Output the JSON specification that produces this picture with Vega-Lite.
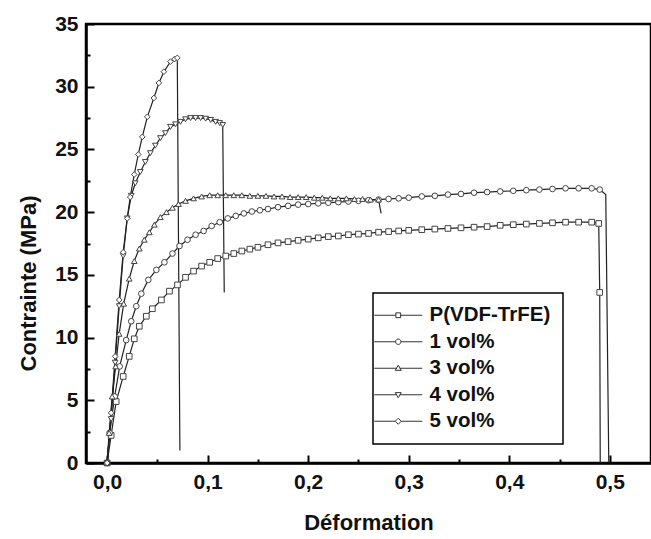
{
  "$schema": "https://vega.github.io/schema/vega-lite/v6.json",
  "width": 565,
  "height": 439,
  "autosize": {"type": "none"},
  "padding": {"left": 86, "top": 24, "right": 0, "bottom": 76},
  "background": "white",
  "config": {
    "view": {"stroke": "black", "strokeWidth": 2.5},
    "font": "Liberation Sans"
  },
  "data": {
    "values": [
      {"s": "P(VDF-TrFE)", "x": 0, "y": 0},
      {"s": "P(VDF-TrFE)", "x": 0.004, "y": 2.2},
      {"s": "P(VDF-TrFE)", "x": 0.009, "y": 4.9},
      {"s": "P(VDF-TrFE)", "x": 0.016, "y": 6.9},
      {"s": "P(VDF-TrFE)", "x": 0.022, "y": 8.5},
      {"s": "P(VDF-TrFE)", "x": 0.027, "y": 9.9},
      {"s": "P(VDF-TrFE)", "x": 0.032, "y": 10.9},
      {"s": "P(VDF-TrFE)", "x": 0.039, "y": 11.7},
      {"s": "P(VDF-TrFE)", "x": 0.045, "y": 12.3},
      {"s": "P(VDF-TrFE)", "x": 0.054, "y": 13.0},
      {"s": "P(VDF-TrFE)", "x": 0.062, "y": 13.7},
      {"s": "P(VDF-TrFE)", "x": 0.070, "y": 14.2},
      {"s": "P(VDF-TrFE)", "x": 0.078, "y": 14.8},
      {"s": "P(VDF-TrFE)", "x": 0.086, "y": 15.3},
      {"s": "P(VDF-TrFE)", "x": 0.094, "y": 15.7},
      {"s": "P(VDF-TrFE)", "x": 0.102, "y": 16.0},
      {"s": "P(VDF-TrFE)", "x": 0.110, "y": 16.3},
      {"s": "P(VDF-TrFE)", "x": 0.118, "y": 16.5},
      {"s": "P(VDF-TrFE)", "x": 0.126, "y": 16.7},
      {"s": "P(VDF-TrFE)", "x": 0.134, "y": 16.9},
      {"s": "P(VDF-TrFE)", "x": 0.142, "y": 17.05},
      {"s": "P(VDF-TrFE)", "x": 0.150, "y": 17.2},
      {"s": "P(VDF-TrFE)", "x": 0.160, "y": 17.4},
      {"s": "P(VDF-TrFE)", "x": 0.170, "y": 17.55},
      {"s": "P(VDF-TrFE)", "x": 0.180, "y": 17.65},
      {"s": "P(VDF-TrFE)", "x": 0.190, "y": 17.75},
      {"s": "P(VDF-TrFE)", "x": 0.200, "y": 17.85},
      {"s": "P(VDF-TrFE)", "x": 0.210, "y": 17.95},
      {"s": "P(VDF-TrFE)", "x": 0.220, "y": 18.05},
      {"s": "P(VDF-TrFE)", "x": 0.230, "y": 18.1},
      {"s": "P(VDF-TrFE)", "x": 0.240, "y": 18.2},
      {"s": "P(VDF-TrFE)", "x": 0.250, "y": 18.25},
      {"s": "P(VDF-TrFE)", "x": 0.260, "y": 18.3},
      {"s": "P(VDF-TrFE)", "x": 0.270, "y": 18.4},
      {"s": "P(VDF-TrFE)", "x": 0.280, "y": 18.45},
      {"s": "P(VDF-TrFE)", "x": 0.290, "y": 18.5},
      {"s": "P(VDF-TrFE)", "x": 0.300, "y": 18.55},
      {"s": "P(VDF-TrFE)", "x": 0.313, "y": 18.6},
      {"s": "P(VDF-TrFE)", "x": 0.326, "y": 18.65},
      {"s": "P(VDF-TrFE)", "x": 0.339, "y": 18.7},
      {"s": "P(VDF-TrFE)", "x": 0.352, "y": 18.75},
      {"s": "P(VDF-TrFE)", "x": 0.365, "y": 18.8},
      {"s": "P(VDF-TrFE)", "x": 0.378, "y": 18.85},
      {"s": "P(VDF-TrFE)", "x": 0.391, "y": 18.95},
      {"s": "P(VDF-TrFE)", "x": 0.404, "y": 19.0},
      {"s": "P(VDF-TrFE)", "x": 0.417, "y": 19.05},
      {"s": "P(VDF-TrFE)", "x": 0.430, "y": 19.1},
      {"s": "P(VDF-TrFE)", "x": 0.443, "y": 19.15},
      {"s": "P(VDF-TrFE)", "x": 0.456, "y": 19.2},
      {"s": "P(VDF-TrFE)", "x": 0.469, "y": 19.2},
      {"s": "P(VDF-TrFE)", "x": 0.482, "y": 19.2},
      {"s": "P(VDF-TrFE)", "x": 0.489, "y": 19.1},
      {"s": "P(VDF-TrFE)", "x": 0.490, "y": 13.6},
      {"s": "P(VDF-TrFE)", "x": 0.4905, "y": 0, "phase": "rupture"},

      {"s": "1 vol%", "x": 0, "y": 0},
      {"s": "1 vol%", "x": 0.0025, "y": 2.4},
      {"s": "1 vol%", "x": 0.0075, "y": 5.3},
      {"s": "1 vol%", "x": 0.0125, "y": 7.7},
      {"s": "1 vol%", "x": 0.019, "y": 9.8},
      {"s": "1 vol%", "x": 0.024, "y": 11.3},
      {"s": "1 vol%", "x": 0.029, "y": 12.5},
      {"s": "1 vol%", "x": 0.034, "y": 13.5},
      {"s": "1 vol%", "x": 0.041, "y": 14.6},
      {"s": "1 vol%", "x": 0.049, "y": 15.4},
      {"s": "1 vol%", "x": 0.057, "y": 16.0},
      {"s": "1 vol%", "x": 0.065, "y": 16.7},
      {"s": "1 vol%", "x": 0.072, "y": 17.3},
      {"s": "1 vol%", "x": 0.080, "y": 17.8},
      {"s": "1 vol%", "x": 0.088, "y": 18.2},
      {"s": "1 vol%", "x": 0.096, "y": 18.5},
      {"s": "1 vol%", "x": 0.104, "y": 18.9},
      {"s": "1 vol%", "x": 0.112, "y": 19.2},
      {"s": "1 vol%", "x": 0.120, "y": 19.5},
      {"s": "1 vol%", "x": 0.128, "y": 19.7},
      {"s": "1 vol%", "x": 0.136, "y": 19.9},
      {"s": "1 vol%", "x": 0.144, "y": 20.05},
      {"s": "1 vol%", "x": 0.152, "y": 20.15},
      {"s": "1 vol%", "x": 0.160, "y": 20.25},
      {"s": "1 vol%", "x": 0.170, "y": 20.4},
      {"s": "1 vol%", "x": 0.180, "y": 20.5},
      {"s": "1 vol%", "x": 0.190, "y": 20.6},
      {"s": "1 vol%", "x": 0.200, "y": 20.65},
      {"s": "1 vol%", "x": 0.210, "y": 20.7},
      {"s": "1 vol%", "x": 0.220, "y": 20.75},
      {"s": "1 vol%", "x": 0.230, "y": 20.8},
      {"s": "1 vol%", "x": 0.240, "y": 20.85},
      {"s": "1 vol%", "x": 0.250, "y": 20.9},
      {"s": "1 vol%", "x": 0.260, "y": 20.95},
      {"s": "1 vol%", "x": 0.270, "y": 21.0},
      {"s": "1 vol%", "x": 0.280, "y": 21.05},
      {"s": "1 vol%", "x": 0.290, "y": 21.1},
      {"s": "1 vol%", "x": 0.300, "y": 21.15},
      {"s": "1 vol%", "x": 0.313, "y": 21.25},
      {"s": "1 vol%", "x": 0.326, "y": 21.3},
      {"s": "1 vol%", "x": 0.339, "y": 21.4},
      {"s": "1 vol%", "x": 0.352, "y": 21.45},
      {"s": "1 vol%", "x": 0.365, "y": 21.55},
      {"s": "1 vol%", "x": 0.378, "y": 21.6},
      {"s": "1 vol%", "x": 0.391, "y": 21.65},
      {"s": "1 vol%", "x": 0.404, "y": 21.7},
      {"s": "1 vol%", "x": 0.417, "y": 21.75},
      {"s": "1 vol%", "x": 0.430, "y": 21.8},
      {"s": "1 vol%", "x": 0.443, "y": 21.85},
      {"s": "1 vol%", "x": 0.456, "y": 21.9},
      {"s": "1 vol%", "x": 0.469, "y": 21.9},
      {"s": "1 vol%", "x": 0.482, "y": 21.9},
      {"s": "1 vol%", "x": 0.490, "y": 21.8},
      {"s": "1 vol%", "x": 0.496, "y": 21.4, "phase": "rupture"},
      {"s": "1 vol%", "x": 0.499, "y": 0, "phase": "rupture"},

      {"s": "3 vol%", "x": 0, "y": 0},
      {"s": "3 vol%", "x": 0.002, "y": 2.4},
      {"s": "3 vol%", "x": 0.005, "y": 5.3},
      {"s": "3 vol%", "x": 0.0085, "y": 7.7},
      {"s": "3 vol%", "x": 0.012, "y": 10.3},
      {"s": "3 vol%", "x": 0.0165, "y": 12.7},
      {"s": "3 vol%", "x": 0.022, "y": 14.7},
      {"s": "3 vol%", "x": 0.027, "y": 16.1},
      {"s": "3 vol%", "x": 0.032, "y": 17.1},
      {"s": "3 vol%", "x": 0.037, "y": 17.8},
      {"s": "3 vol%", "x": 0.042, "y": 18.4},
      {"s": "3 vol%", "x": 0.047, "y": 19.0},
      {"s": "3 vol%", "x": 0.053, "y": 19.6},
      {"s": "3 vol%", "x": 0.059, "y": 20.0},
      {"s": "3 vol%", "x": 0.065, "y": 20.35},
      {"s": "3 vol%", "x": 0.071, "y": 20.65},
      {"s": "3 vol%", "x": 0.078, "y": 20.9},
      {"s": "3 vol%", "x": 0.086, "y": 21.1},
      {"s": "3 vol%", "x": 0.094, "y": 21.25},
      {"s": "3 vol%", "x": 0.102, "y": 21.35},
      {"s": "3 vol%", "x": 0.110, "y": 21.35},
      {"s": "3 vol%", "x": 0.118, "y": 21.35},
      {"s": "3 vol%", "x": 0.126, "y": 21.35},
      {"s": "3 vol%", "x": 0.134, "y": 21.35},
      {"s": "3 vol%", "x": 0.142, "y": 21.3},
      {"s": "3 vol%", "x": 0.150, "y": 21.3},
      {"s": "3 vol%", "x": 0.158, "y": 21.3},
      {"s": "3 vol%", "x": 0.166, "y": 21.25},
      {"s": "3 vol%", "x": 0.174, "y": 21.25},
      {"s": "3 vol%", "x": 0.182, "y": 21.2},
      {"s": "3 vol%", "x": 0.190, "y": 21.2},
      {"s": "3 vol%", "x": 0.198, "y": 21.2},
      {"s": "3 vol%", "x": 0.206, "y": 21.15},
      {"s": "3 vol%", "x": 0.214, "y": 21.15},
      {"s": "3 vol%", "x": 0.222, "y": 21.1},
      {"s": "3 vol%", "x": 0.230, "y": 21.1},
      {"s": "3 vol%", "x": 0.238, "y": 21.1},
      {"s": "3 vol%", "x": 0.246, "y": 21.05},
      {"s": "3 vol%", "x": 0.254, "y": 21.05},
      {"s": "3 vol%", "x": 0.262, "y": 21.0},
      {"s": "3 vol%", "x": 0.270, "y": 21.0},
      {"s": "3 vol%", "x": 0.2725, "y": 19.9, "phase": "rupture"},

      {"s": "4 vol%", "x": 0, "y": 0},
      {"s": "4 vol%", "x": 0.004, "y": 3.5},
      {"s": "4 vol%", "x": 0.008, "y": 8.0},
      {"s": "4 vol%", "x": 0.012, "y": 12.5},
      {"s": "4 vol%", "x": 0.016, "y": 16.5},
      {"s": "4 vol%", "x": 0.020, "y": 19.5},
      {"s": "4 vol%", "x": 0.024, "y": 21.3},
      {"s": "4 vol%", "x": 0.028, "y": 22.3},
      {"s": "4 vol%", "x": 0.033, "y": 23.2},
      {"s": "4 vol%", "x": 0.038, "y": 24.0},
      {"s": "4 vol%", "x": 0.043, "y": 24.7},
      {"s": "4 vol%", "x": 0.048, "y": 25.3},
      {"s": "4 vol%", "x": 0.053, "y": 25.9},
      {"s": "4 vol%", "x": 0.058, "y": 26.3},
      {"s": "4 vol%", "x": 0.063, "y": 26.8},
      {"s": "4 vol%", "x": 0.068, "y": 27.0},
      {"s": "4 vol%", "x": 0.073, "y": 27.2},
      {"s": "4 vol%", "x": 0.078, "y": 27.4},
      {"s": "4 vol%", "x": 0.083, "y": 27.5},
      {"s": "4 vol%", "x": 0.088, "y": 27.5},
      {"s": "4 vol%", "x": 0.093, "y": 27.5},
      {"s": "4 vol%", "x": 0.098, "y": 27.45},
      {"s": "4 vol%", "x": 0.103, "y": 27.35},
      {"s": "4 vol%", "x": 0.108, "y": 27.2},
      {"s": "4 vol%", "x": 0.112, "y": 27.1},
      {"s": "4 vol%", "x": 0.115, "y": 26.95},
      {"s": "4 vol%", "x": 0.1165, "y": 13.6, "phase": "rupture"},

      {"s": "5 vol%", "x": 0, "y": 0},
      {"s": "5 vol%", "x": 0.004, "y": 4.0},
      {"s": "5 vol%", "x": 0.008, "y": 8.5},
      {"s": "5 vol%", "x": 0.012, "y": 13.0},
      {"s": "5 vol%", "x": 0.016, "y": 16.8},
      {"s": "5 vol%", "x": 0.020, "y": 19.5},
      {"s": "5 vol%", "x": 0.023, "y": 21.2},
      {"s": "5 vol%", "x": 0.027, "y": 23.0},
      {"s": "5 vol%", "x": 0.031, "y": 24.6},
      {"s": "5 vol%", "x": 0.035, "y": 26.0},
      {"s": "5 vol%", "x": 0.040, "y": 27.6},
      {"s": "5 vol%", "x": 0.0465, "y": 29.1},
      {"s": "5 vol%", "x": 0.0515, "y": 30.3},
      {"s": "5 vol%", "x": 0.0565, "y": 31.2},
      {"s": "5 vol%", "x": 0.063, "y": 32.0},
      {"s": "5 vol%", "x": 0.067, "y": 32.2},
      {"s": "5 vol%", "x": 0.0698, "y": 32.3},
      {"s": "5 vol%", "x": 0.0724, "y": 1.0, "phase": "rupture"}
    ]
  },
  "encoding": {
    "x": {
      "field": "x",
      "type": "quantitative",
      "scale": {"domain": [-0.021, 0.541], "nice": false, "zero": false},
      "axis": {
        "values": [0, 0.05, 0.1, 0.15, 0.2, 0.25, 0.3, 0.35, 0.4, 0.45, 0.5],
        "labelExpr": "abs(datum.value*10 - round(datum.value*10)) > 0.01 ? '' : replace(format(datum.value, '.1f'), '.', ',')",
        "tickSize": {"condition": {"test": "abs(datum.value*10 - round(datum.value*10)) > 0.01", "value": -4}, "value": -8},
        "tickWidth": 2,
        "tickColor": "black",
        "domainColor": "black",
        "domainWidth": 2.5,
        "grid": false,
        "labelFont": "Liberation Sans",
        "labelFontSize": 21,
        "labelFontWeight": "bold",
        "labelColor": "#111",
        "labelPadding": 16,
        "labelFlush": false,
        "labelOverlap": false,
        "title": "Déformation",
        "titleFont": "Liberation Sans",
        "titleFontSize": 22,
        "titleFontWeight": "bold",
        "titleColor": "#111",
        "titleBaseline": "middle",
        "titleY": 59
      }
    },
    "y": {
      "field": "y",
      "type": "quantitative",
      "scale": {"domain": [0, 35], "nice": false},
      "axis": {
        "values": [0, 2.5, 5, 7.5, 10, 12.5, 15, 17.5, 20, 22.5, 25, 27.5, 30, 32.5, 35],
        "labelExpr": "datum.value % 5 === 0 ? datum.label : ''",
        "tickSize": {"condition": {"test": "datum.value % 5 !== 0", "value": -4}, "value": -8},
        "tickWidth": 2,
        "tickColor": "black",
        "domainColor": "black",
        "domainWidth": 2.5,
        "grid": false,
        "labelFont": "Liberation Sans",
        "labelFontSize": 21,
        "labelFontWeight": "bold",
        "labelColor": "#111",
        "labelPadding": 16,
        "labelFlush": false,
        "labelOverlap": false,
        "title": "Contrainte (MPa)",
        "titleFont": "Liberation Sans",
        "titleFontSize": 22,
        "titleFontWeight": "bold",
        "titleColor": "#111",
        "titleBaseline": "middle",
        "titleX": -58,
        "titleY": 259
      }
    }
  },
  "layer": [
    {
      "mark": {"type": "line", "stroke": "#222", "strokeWidth": 1.2},
      "encoding": {"detail": {"field": "s"}}
    },
    {
      "transform": [{"filter": "datum.phase !== 'rupture'"}],
      "mark": {"type": "point", "fill": "white", "stroke": "#444", "strokeWidth": 1, "size": 32, "opacity": 1},
      "encoding": {
        "shape": {
          "field": "s",
          "type": "nominal",
          "scale": {
            "domain": ["P(VDF-TrFE)", "1 vol%", "3 vol%", "4 vol%", "5 vol%"],
            "range": ["square", "circle", "triangle-up", "triangle-down", "diamond"]
          },
          "legend": null
        }
      }
    },
    {
      "transform": [{"filter": "datum.x === 0"}],
      "mark": {"type": "point", "fill": "white", "stroke": "#333", "strokeWidth": 1, "size": 36, "opacity": 0},
      "encoding": {
        "shape": {
          "field": "s",
          "type": "nominal",
          "scale": {
            "domain": ["P(VDF-TrFE)", "1 vol%", "3 vol%", "4 vol%", "5 vol%"],
            "range": [
              "M-7,0H0.2M1.8,0H9M0.2,-0.8H1.8V0.8H0.2Z",
              "M-7,0H0.1M1.9,0H9M0.1,0A0.9,0.9 0 1,0 1.9,0A0.9,0.9 0 1,0 0.1,0Z",
              "M-7,0H0.5M1.5,0H9M1,-1L2,0.7H0Z",
              "M-7,0H0.5M1.5,0H9M1,1L2,-0.7H0Z",
              "M-7,0H0M2,0H9M1,-1L2,0L1,1L0,0Z"
            ]
          },
          "legend": {
            "orient": "none",
            "legendX": 287,
            "legendY": 269,
            "title": null,
            "strokeColor": "black",
            "fillColor": "white",
            "padding": 12,
            "rowPadding": 5.5,
            "labelFont": "Liberation Sans",
            "labelFontSize": 20.5,
            "labelFontWeight": "bold",
            "labelColor": "#111",
            "labelOffset": 24,
            "symbolSize": 36,
            "symbolStrokeWidth": 1,
            "symbolStrokeColor": "#333",
            "symbolFillColor": "white",
            "symbolOpacity": 1,
            "encoding": {
              "legend": {"strokeWidth": {"value": 1.5}},
              "symbols": {
                "size": {"value": 36},
                "fill": {"value": "white"},
                "stroke": {"value": "#333"},
                "strokeWidth": {"value": 1},
                "opacity": {"value": 1}
              }
            }
          }
        }
      }
    }
  ],
  "resolve": {"scale": {"shape": "independent"}, "legend": {"shape": "independent"}}
}
